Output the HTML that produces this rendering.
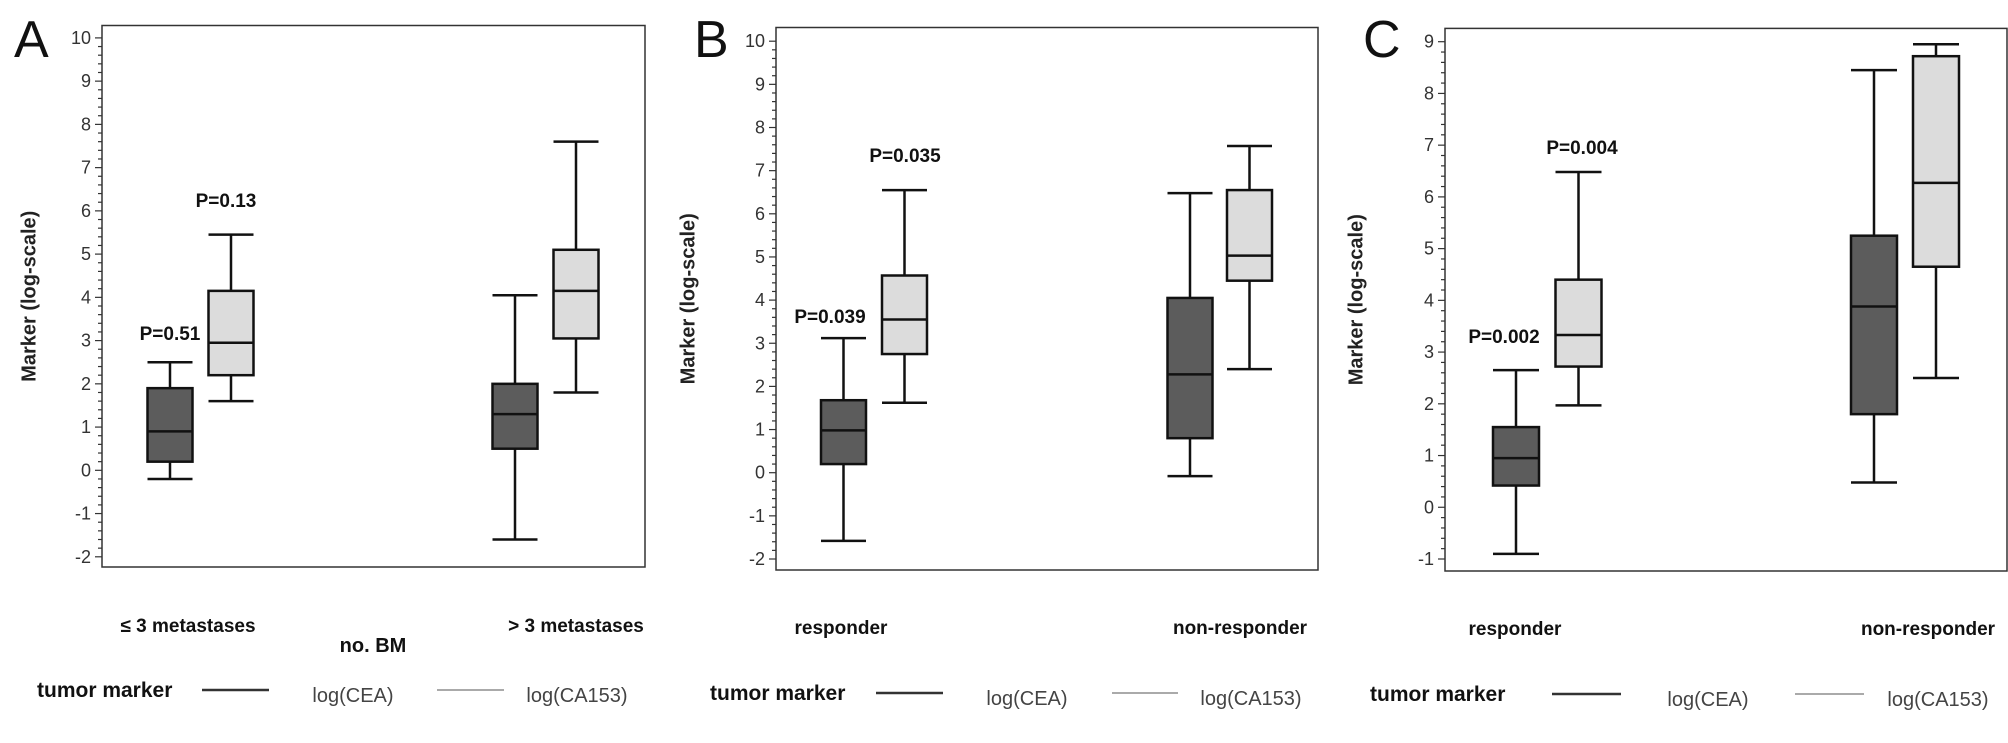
<!DOCTYPE html>
<html><head><meta charset="utf-8"><style>
html,body{margin:0;padding:0;background:#fff;}
svg{display:block;font-family:"Liberation Sans",Arial,sans-serif;}
</style></head><body>
<svg id="fig" width="2008" height="743" viewBox="0 0 2008 743"></svg>
<script>
// ---- data ----
const panelLetters = ["A","B","C"];
const catsA = ["≤ 3 metastases","> 3 metastases"];
const catsB = ["responder","non-responder"];
const catsC = ["responder","non-responder"];
// [whiskerLow, q1, median, q3, whiskerHigh] per group: CEA, CA153
const ceaA = [[-0.2,0.2,0.9,1.9,2.5],[-1.6,0.5,1.3,2.0,4.05]];
const caA  = [[1.6,2.2,2.95,4.15,5.45],[1.8,3.05,4.15,5.1,7.6]];
const ceaB = [[-1.58,0.2,0.98,1.68,3.12],[-0.08,0.8,2.28,4.05,6.48]];
const caB  = [[1.62,2.75,3.55,4.57,6.55],[2.4,4.45,5.03,6.55,7.57]];
const ceaC = [[-0.9,0.42,0.95,1.55,2.65],[0.48,1.8,3.88,5.25,8.45]];
const caC  = [[1.97,2.72,3.33,4.4,6.48],[2.5,4.65,6.27,8.72,8.95]];
const pValsA = ["P=0.51","P=0.13"];
const pValsB = ["P=0.039","P=0.035"];
const pValsC = ["P=0.002","P=0.004"];
const yTicksA = [-2,-1,0,1,2,3,4,5,6,7,8,9,10];
const yTicksB = [-2,-1,0,1,2,3,4,5,6,7,8,9,10];
const yTicksC = [-1,0,1,2,3,4,5,6,7,8,9];

const NS="http://www.w3.org/2000/svg";
const svg=document.getElementById('fig');
function mk(tag,attrs,parent){const e=document.createElementNS(NS,tag);for(const k in attrs)e.setAttribute(k,attrs[k]);(parent||svg).appendChild(e);return e;}

const layouts=[
 {box:[102,25.5,645,567],yv:[10,37.9,-2,556.8],cx:[[170,231],[515,576]],bw:45,letterX:14,titleX:30,
  pPos:[[170,340],[226,207]],catX:[188,576],catY:632,legY:690,tm:37,l1:[202,269],t1:353,l2:[437,504],t2:577,noBM:true},
 {box:[776,27.5,1318,570],yv:[10,41.2,-2,559],cx:[[843.5,904.5],[1190,1249.5]],bw:45,letterX:694,titleX:689,
  pPos:[[830,323],[905,162]],catX:[841,1240],catY:634,legY:693,tm:710,l1:[876,943],t1:1027,l2:[1112,1178],t2:1251},
 {box:[1445,28.4,2007,571],yv:[9,41.7,-1,559],cx:[[1516,1578.5],[1874,1936]],bw:46,letterX:1363,titleX:1357,
  pPos:[[1504,343],[1582,154]],catX:[1515,1928],catY:635,legY:694,tm:1370,l1:[1552,1621],t1:1708,l2:[1795,1864],t2:1938}
];
const ceaAll=[ceaA,ceaB,ceaC], caAll=[caA,caB,caC], pAll=[pValsA,pValsB,pValsC], tickAll=[yTicksA,yTicksB,yTicksC], catAll=[catsA,catsB,catsC];

layouts.forEach((L,pi)=>{
  const g=mk('g',{});
  
  
  const [v1,p1,v2,p2]=L.yv;
  const y=v=>p1+(v-v1)*(p2-p1)/(v2-v1);
  const [x0,y0,x1,y1]=L.box;
  const lt=mk('text',{x:L.letterX,y:57,'font-size':52,fill:'#111'},g);lt.textContent=panelLetters[pi];
  
  
  const fr=mk('rect',{x:x0,y:y0,width:x1-x0,height:y1-y0,fill:'none',stroke:'#333','stroke-width':1.5},g);
  
  
  const ticks=tickAll[pi];
  const ax=mk('g',{},g);
  
  
  const tmin=ticks[0],tmax=ticks[ticks.length-1];
  for(let i=0;i<=(tmax-tmin)*5;i++){
    const v=tmin+i*0.2;
    mk('line',{x1:x0,x2:x0-(i%5==0?7:4),y1:y(v),y2:y(v),stroke:'#333','stroke-width':1.2},ax);
  }
  ticks.forEach(t=>{
    const tx=mk('text',{x:x0-11,y:y(t)+6,'text-anchor':'end','font-size':18,fill:'#333'},ax);tx.textContent=t;
    
    
  });
  const yc=(y0+y1)/2;
  const tt=mk('text',{x:L.titleX,y:yc,transform:`rotate(-90 ${L.titleX} ${yc})`,'text-anchor':'middle','font-size':20,'font-weight':'bold',fill:'#222','dominant-baseline':'middle'},g);
  tt.textContent='Marker (log-scale)';
  
  
  [ceaAll[pi],caAll[pi]].forEach((ser,si)=>{
    ser.forEach((d,gi)=>{
      const cx=L.cx[gi][si],hw=L.bw/2;
      const b=mk('g',{},g);
      
      
      const st={stroke:'#111','stroke-width':2.5};
      mk('line',Object.assign({x1:cx,x2:cx,y1:y(d[0]),y2:y(d[4])},st),b);
      mk('line',Object.assign({x1:cx-hw,x2:cx+hw,y1:y(d[0]),y2:y(d[0])},st),b);
      mk('line',Object.assign({x1:cx-hw,x2:cx+hw,y1:y(d[4]),y2:y(d[4])},st),b);
      mk('rect',Object.assign({x:cx-hw,y:y(d[3]),width:2*hw,height:y(d[1])-y(d[3]),fill:si==0?'#5c5c5c':'#dcdcdc'},st),b);
      mk('line',Object.assign({x1:cx-hw,x2:cx+hw,y1:y(d[2]),y2:y(d[2])},st),b);
    });
  });
  pAll[pi].forEach((p,i)=>{
    const t=mk('text',{x:L.pPos[i][0],y:L.pPos[i][1],'text-anchor':'middle','font-size':19,'font-weight':'bold',fill:'#111'},g);t.textContent=p;
    
    
  });
  catAll[pi].forEach((c,i)=>{
    const t=mk('text',{x:L.catX[i],y:L.catY,'text-anchor':'middle','font-size':19,'font-weight':'bold',fill:'#111'},g);t.textContent=c;
    
    
  });
  if(L.noBM){const t=mk('text',{x:373,y:652,'text-anchor':'middle','font-size':20,'font-weight':'bold',fill:'#111'},g);t.textContent='no. BM';
    
    }
  const lg=mk('g',{},g);
  
  
  const ly=L.legY;
  const tm=mk('text',{x:L.tm,y:ly+7,'font-size':21,'font-weight':'bold',fill:'#111'},lg);tm.textContent='tumor marker';
  mk('line',{x1:L.l1[0],x2:L.l1[1],y1:ly,y2:ly,stroke:'#333','stroke-width':2.5},lg);
  const a=mk('text',{x:L.t1,y:ly+12,'text-anchor':'middle','font-size':20,fill:'#444'},lg);a.textContent='log(CEA)';
  mk('line',{x1:L.l2[0],x2:L.l2[1],y1:ly,y2:ly,stroke:'#aaa','stroke-width':2},lg);
  const b=mk('text',{x:L.t2,y:ly+12,'text-anchor':'middle','font-size':20,fill:'#444'},lg);b.textContent='log(CA153)';
});
</script>
</body></html>
